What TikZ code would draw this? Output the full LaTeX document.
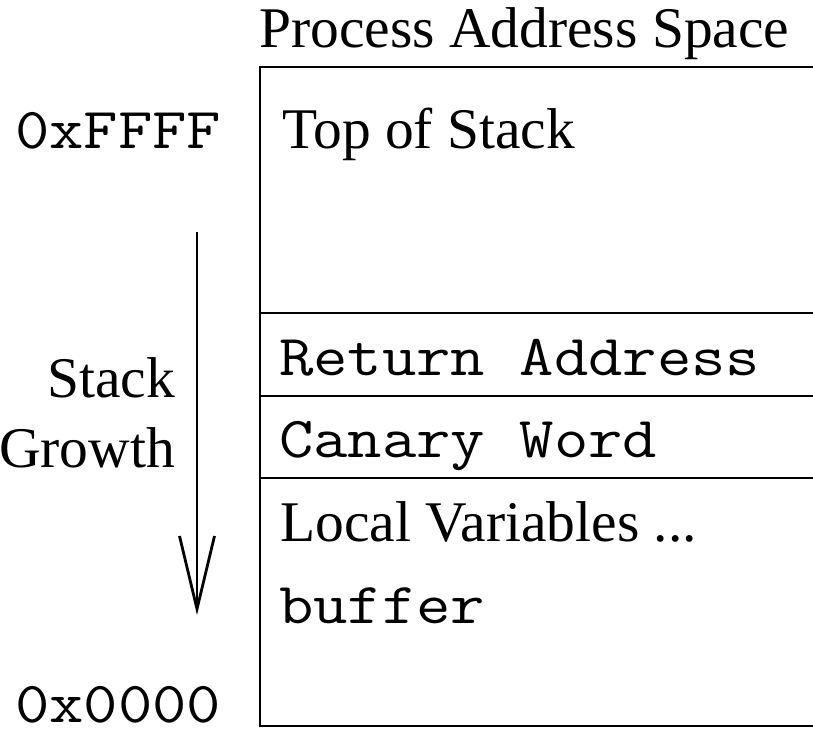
\documentclass[tikz,border=0pt]{standalone}
\usepackage{fontspec}
\usepackage{graphicx}
\setmainfont{Liberation Serif}
\usetikzlibrary{arrows.meta}
% typewriter text, widened to a Courier-like pitch
\newcommand{\codetext}[1]{\scalebox{1.15}[1]{\fontsize{58}{68}\selectfont\ttfamily #1}}
\begin{document}
\begin{tikzpicture}[x=1pt,y=-1pt,
  txt/.style={inner sep=0pt,font=\fontsize{57.5}{68}\selectfont},
  mono/.style={inner sep=0pt},
  frame/.style={line width=1.8pt,line cap=rect},
  growth/.style={line width=2.8pt,-{Straight Barb[length=73pt,width=35pt,line width=2.8pt]}}]
  \useasboundingbox (0,0) rectangle (813,731);

  % memory column
  \coordinate (tl) at (260,67);
  \coordinate (bl) at (260,726);
  \draw[frame] (813,67) -- (tl) -- (bl) -- (813,726);
  \draw[frame] (260,313) -- (813,313);
  \draw[frame] (260,396) -- (813,396);
  \draw[frame] (260,478) -- (813,478);

  % labels
  \node[txt,anchor=base west] (title) at (259,47) {Process Address Space};
  \node[txt,anchor=base west] (top) at (282,148) {Top of Stack};
  \node[mono,anchor=base west] (ret) at (279,375) {\codetext{Return Address}};
  \node[mono,anchor=base west] (can) at (279,457) {\codetext{Canary Word}};
  \node[txt,anchor=base west] (loc) at (280,541) {Local Variables ...};
  \node[mono,anchor=base west] (buf) at (279,623) {\codetext{buffer}};
  \node[mono,anchor=base west] (hi) at (15,148) {\codetext{0xFFFF}};
  \node[mono,anchor=base west] (lo) at (15,722) {\codetext{0x0000}};
  \node[txt,anchor=base east] (stk) at (175,397) {Stack};
  \node[txt,anchor=base east] (grw) at (175,467) {Growth};

  % growth direction
  \coordinate (gs) at (197,232);
  \coordinate (ge) at (197,615);
  \draw[growth] (gs) -- (ge);
\end{tikzpicture}
\end{document}
